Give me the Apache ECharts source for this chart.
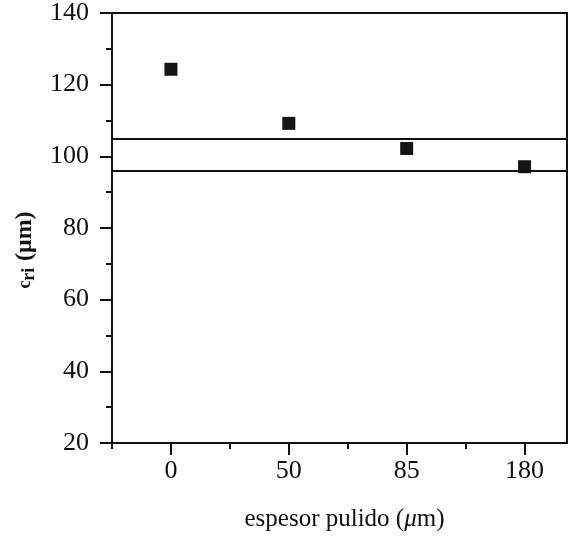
<!DOCTYPE html>
<html>
<head>
<meta charset="utf-8">
<script src="https://cdn.jsdelivr.net/npm/echarts@6/dist/echarts.min.js"></script>
<style>
  html, body { margin: 0; padding: 0; background: #fff; }
  #chart { width: 575px; height: 541px; }
</style>
</head>
<body>
<div id="chart"></div>
<script>
// Polished thickness (µm) and the measured c_ri for each sample
const categories = ['0', '50', '85', '180'];
const criValues = [124.3, 109.2, 102.2, 97.1];
// Reference band drawn as two horizontal lines
const bandLimits = [105, 96];
const yTicks = [20, 40, 60, 80, 100, 120, 140];

// each category sits on an even slot of a value axis, odd slots carry minor ticks
const slots = categories.map((c, i) => i * 2);
const minorSlots = [-1].concat(slots.slice(0, -1).map(s => s + 1));

const font = '"Liberation Serif", "Times New Roman", serif';
const ink = '#111';

const chart = echarts.init(document.getElementById('chart'), null, { renderer: 'canvas' });

chart.setOption({
  animation: false,
  backgroundColor: '#fff',
  grid: {
    left: 112, right: 8, top: 13, bottom: 98,
    show: true, borderColor: ink, borderWidth: 2, backgroundColor: 'transparent'
  },
  xAxis: [
    {
      type: 'value', min: -1, max: 6.72, position: 'bottom',
      splitLine: { show: false },
      axisLine: { show: true, onZero: false, lineStyle: { color: ink, width: 2 } },
      axisTick: { show: true, customValues: slots, length: 12, lineStyle: { color: ink, width: 2 } },
      axisLabel: {
        customValues: slots, margin: 15,
        fontFamily: font, fontSize: 26, color: ink,
        formatter: v => categories[Math.round(v / 2)]
      },
      name: '{n|espesor pulido (}{i|μ}{n|m)}',
      nameLocation: 'middle', nameGap: 64,
      nameTextStyle: {
        padding: [0, 0, 0, 10],
        rich: {
          n: { fontFamily: font, fontSize: 25, color: ink },
          i: { fontFamily: font, fontSize: 25, fontStyle: 'italic', color: ink }
        }
      }
    },
    {
      type: 'value', min: -1, max: 6.72, position: 'bottom',
      splitLine: { show: false },
      axisLine: { show: false, onZero: false },
      axisTick: { show: true, customValues: minorSlots, length: 6, lineStyle: { color: ink, width: 2 } },
      axisLabel: { show: false }
    }
  ],
  yAxis: {
    type: 'value', min: yTicks[0], max: yTicks[yTicks.length - 1], interval: 20,
    splitLine: { show: false },
    axisLine: { show: true, onZero: false, lineStyle: { color: ink, width: 2 } },
    axisTick: { show: true, length: 12, lineStyle: { color: ink, width: 2 } },
    minorTick: { show: true, splitNumber: 2, length: 6, lineStyle: { color: ink, width: 2 } },
    minorSplitLine: { show: false },
    axisLabel: { margin: 23, fontFamily: font, fontSize: 26, color: ink },
    name: '{c|c}{s|ri}  {n|(μm)}',
    nameLocation: 'middle', nameGap: 74, nameRotate: 90,
    nameTextStyle: {
      padding: [0, 44, 0, 0],
      rich: {
        c: { fontFamily: font, fontSize: 18, fontWeight: 'bold', color: ink },
        s: { fontFamily: font, fontSize: 18, fontWeight: 'bold', color: ink, verticalAlign: 'bottom', padding: [8, 0, 0, 0] },
        n: { fontFamily: font, fontSize: 24, fontWeight: 'bold', color: ink }
      }
    }
  },
  series: [
    {
      type: 'scatter',
      xAxisIndex: 0,
      symbol: 'rect', symbolSize: 13,
      itemStyle: { color: '#151515', opacity: 1 },
      data: slots.map((s, i) => [s, criValues[i]]),
      markLine: {
        silent: true,
        symbol: ['none', 'none'],
        label: { show: false },
        lineStyle: { color: ink, width: 2, type: 'solid' },
        data: bandLimits.map(v => ({ yAxis: v }))
      },
      z: 3
    }
  ]
});
</script>
</body>
</html>
